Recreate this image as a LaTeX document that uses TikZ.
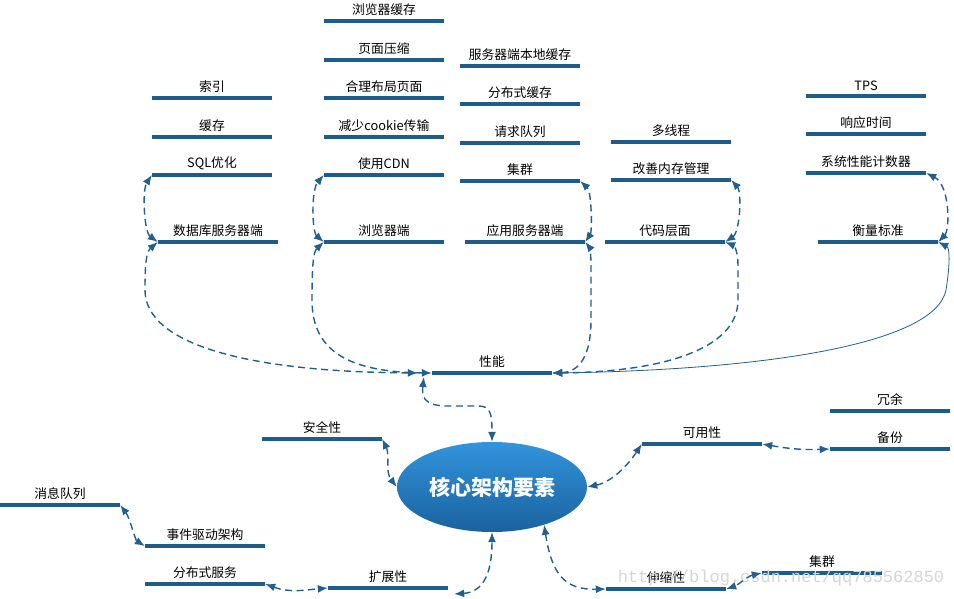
\documentclass[tikz,border=0pt]{standalone}
\usepackage{fontspec}
\newfontfamily\cjk{Noto Sans CJK SC}
\newfontfamily\wmfont{Liberation Mono}
\usetikzlibrary{arrows.meta,shapes.geometric}
\definecolor{barc}{RGB}{30,93,138}
\definecolor{linec}{RGB}{34,96,142}
\definecolor{ctop}{RGB}{50,148,220}
\definecolor{cbot}{RGB}{26,98,158}
\tikzset{
  lbl/.style={font=\cjk\fontsize{12.8}{13}\selectfont, inner sep=0pt, text=black, yshift=3pt},
  bar/.style={rectangle, fill=barc, minimum width=120pt, minimum height=4.5pt,
    inner sep=0pt, label={[lbl]above:#1}},
  core/.style={ellipse, minimum width=190pt, minimum height=90pt, inner sep=0pt,
    top color=ctop, bottom color=cbot, text=white,
    font=\cjk\bfseries\fontsize{21}{21}\selectfont},
  conn/.style={draw=linec, line width=1.4pt, dash pattern=on 7pt off 4.5pt,
    {Latex[length=10pt,width=8pt]}-{Latex[length=10pt,width=8pt]}},
  sconn/.style={draw=linec, line width=0.8pt,
    {Latex[length=10pt,width=8pt]}-{Latex[length=10pt,width=8pt]}},
}
\begin{document}
\begin{tikzpicture}[x=1pt,y=-1pt]
\useasboundingbox (0,0) rectangle (954,598);
\fill[white] (0,0) rectangle (954,598);
% browser column
\node[bar=浏览器缓存] (bc) at (384,21) {};
\node[bar=页面压缩] (yc) at (384,60) {};
\node[bar=合理布局页面] (hl) at (384,98) {};
\node[bar=减少cookie传输] (ck) at (384,137) {};
\node[bar=使用CDN] (cdn) at (384,175) {};
\node[bar=浏览器端] (br) at (384,242) {};
% database column
\node[bar=索引] (idx) at (212,98) {};
\node[bar=缓存] (cache) at (212,137) {};
\node[bar=SQL优化] (sql) at (212,175) {};
\node[bar=数据库服务器端] (db) at (218,242) {};
% app server column
\node[bar=服务器端本地缓存] (slc) at (520,66) {};
\node[bar=分布式缓存] (dc) at (520,104) {};
\node[bar=请求队列] (rq) at (520,143) {};
\node[bar=集群] (cl) at (520,181) {};
\node[bar=应用服务器端] (app) at (525,242) {};
% code column
\node[bar=多线程] (mt) at (671,142) {};
\node[bar=改善内存管理] (mem) at (671,180) {};
\node[bar=代码层面] (code) at (665,242) {};
% metrics column
\node[bar=TPS] (tps) at (866,96) {};
\node[bar=响应时间] (rt) at (866,134) {};
\node[bar=系统性能计数器] (cnt) at (866,173) {};
\node[bar=衡量标准] (ms) at (878,242) {};
% middle
\node[bar=性能] (perf) at (492,373) {};
\node[bar=安全性] (sec) at (322,439) {};
\node[bar=可用性] (av) at (702,444) {};
\node[bar=冗余] (red) at (890,411) {};
\node[bar=备份] (bk) at (890,449) {};
\node[bar=消息队列] (mq) at (60,505) {};
\node[bar=事件驱动架构] (ev) at (205,546) {};
\node[bar=分布式服务] (ds) at (205,584) {};
\node[bar=扩展性] (ext) at (388,588) {};
\node[bar=伸缩性] (str) at (666,589) {};
\node[bar=集群] (cl2) at (822,573) {};
\node[core] (core) at (492,487) {核心架构要素};
% watermark
\node[font=\wmfont\fontsize{17}{17}\selectfont, text=black!16, inner sep=0pt] (wm) at (781,578) {http://blog.csdn.net/qq785562850};

% top-level short connectors
\draw[conn] (db.west) .. controls (144,232) and (142,190) .. (sql.west);
\draw[conn] (br.west) .. controls (312,232) and (311,190) .. (cdn.west);
\draw[conn] (app.east) .. controls (592,232) and (592,192) .. (cl.east);
\draw[conn] (code.east) .. controls (740,232) and (742,192) .. (mem.east);
\draw[conn] (ms.east) .. controls (950,230) and (950,185) .. (cnt.east);
% performance connectors
\draw[conn, shorten <=14pt] (perf.west) .. controls (250,372) and (145,345) .. (145,290)
   .. controls (145,265) and (146,252) .. (db.west);
\draw[conn] (perf.west) .. controls (350,372) and (312,352) .. (312,300)
   .. controls (312,268) and (313,252) .. (br.west);
\draw[conn] (perf.east) .. controls (580,372) and (591,355) .. (591,320)
   -- (591,268) .. controls (591,255) and (590,248) .. (app.east);
\draw[conn] (perf.east) .. controls (660,372) and (738,350) .. (738,300)
   -- (738,265) .. controls (738,254) and (735,246) .. (code.east);
\draw[sconn] (perf.east) .. controls (760,370) and (935,345) .. (946,290)
   .. controls (950,265) and (950,248) .. (ms.east);
% core connectors
\draw[conn] ([xshift=-8pt,yshift=-4pt]perf.west) .. controls (422,395) and (422,405) .. (445,406)
   -- (478,406) .. controls (490,406) and (492,412) .. (core.north);
\draw[conn] (sec.east) .. controls (390,455) and (385,472) .. (core.west);
\draw[conn] (core.east) .. controls (612,482) and (628,465) .. (av.west);
\draw[conn] (av.east) .. controls (790,449) and (805,450) .. (bk.west);
\draw[conn] (mq.east) .. controls (130,518) and (135,540) .. (ev.west);
\draw[conn] (ds.east) .. controls (290,593) and (305,590) .. (ext.west);
\draw[conn] ([xshift=6pt,yshift=-6pt]ext.east) .. controls (485,592) and (492,570) .. (core.south);
\draw[conn] (core.-36) .. controls (552,575) and (565,590) .. (str.west);
\draw[conn] (cl2.west) .. controls (748,576) and (738,585) .. (str.east);
\end{tikzpicture}
\end{document}
